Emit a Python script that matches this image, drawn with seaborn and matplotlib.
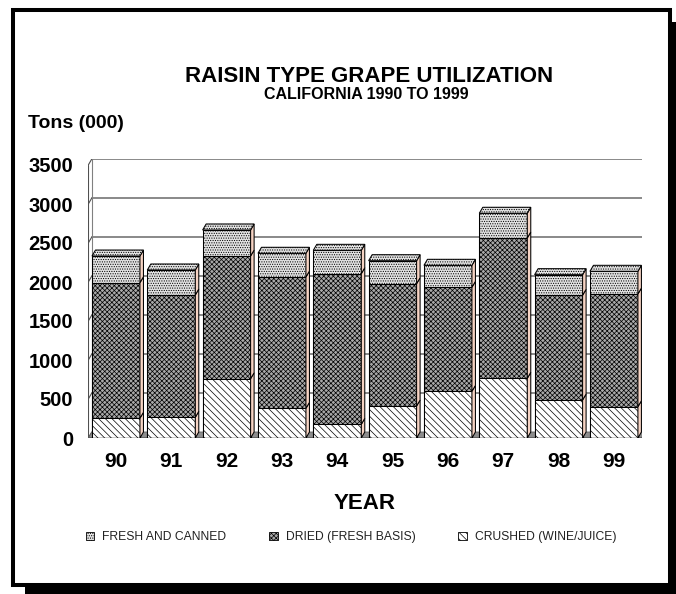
import numpy as np
import pandas as pd
import matplotlib.pyplot as plt
import seaborn as sns
from matplotlib.patches import Polygon, Patch, Rectangle

# values in thousand tons
years = ['90', '91', '92', '93', '94', '95', '96', '97', '98', '99']
crushed = [253, 265, 760, 380, 175, 410, 598, 765, 487, 401]
dried = [1738, 1568, 1573, 1684, 1931, 1568, 1334, 1799, 1343, 1445]
fresh = [342, 321, 334, 304, 300, 295, 282, 317, 264, 291]
series = ['FRESH AND CANNED', 'DRIED (FRESH BASIS)', 'CRUSHED (WINE/JUICE)']
yticks = [0, 500, 1000, 1500, 2000, 2500, 3000, 3500]

sns.set_style('white')
plt.rcParams['font.family'] = ['Liberation Sans', 'DejaVu Sans']
plt.rcParams['hatch.linewidth'] = 0.5
for k in ['text.color', 'axes.labelcolor', 'xtick.color', 'ytick.color']:
    plt.rcParams[k] = 'black'

df = pd.DataFrame({'year': years, 'crushed': crushed, 'dried': dried, 'fresh': fresh})
df['dried_top'] = df['crushed'] + df['dried']
df['total'] = df['dried_top'] + df['fresh']

# fill styles: face colour + hatch
styles = {
    'total': ('#e2e2e2', '.......'),
    'dried_top': ('#a8a8a8', 'xxxxxxx'),
    'crushed': ('white', '\\\\\\\\\\'),
}
SIDE = '#f6d3c3'

W, H = 676, 594
fig = plt.figure(figsize=(W / 100, H / 100), dpi=100)

# frame with drop shadow
fig.patches.append(Rectangle((25 / W, -0.1), 1, 1.1 - 22 / H, transform=fig.transFigure,
                             facecolor='black', edgecolor='none', zorder=-3))
fig.patches.append(Rectangle((13 / W, 1 - 585 / H), 657 / W, 575 / H, transform=fig.transFigure,
                             facecolor='white', edgecolor='black', lw=2.9, zorder=-2))

ax_px = (88.3, 438, 553.3, 279)  # left, bottom(from top), width, height in px
ax = fig.add_axes([ax_px[0] / W, 1 - ax_px[1] / H, ax_px[2] / W, ax_px[3] / H])
ax.set_facecolor('none')

ytop = 3500 * ax_px[3] / (438 - 165)
n = len(years)
dx = 3.5 / (ax_px[2] / n)          # depth offset in category units
dy = 6 * ytop / ax_px[3]           # depth offset in data units

# back wall, left wall and floor
for v in yticks[1:]:
    ax.plot([-0.5 + dx, n - 0.5 + dx], [v + dy, v + dy], color='#808080', lw=1.3, zorder=0.5)
for v in yticks:
    ax.plot([-0.5, -0.5 + dx], [v, v + dy], color='#505050', lw=0.8, zorder=0.6)
ax.plot([-0.5, -0.5], [0, yticks[-1]], color='#505050', lw=0.8, zorder=0.6)
ax.plot([-0.5 + dx] * 2, [dy, yticks[-1] + dy], color='#808080', lw=0.8, zorder=0.6)
ax.plot([n - 0.5 + dx] * 2, [dy, yticks[-1] + dy], color='#808080', lw=1.0, zorder=0.6)
ax.add_patch(Polygon([(-0.5, 0), (n - 0.5, 0), (n - 0.5 + dx, dy), (-0.5 + dx, dy)],
                     facecolor='#8c8c8c', edgecolor='#606060', lw=0.6, zorder=0.7))

# stacked bars: cumulative totals drawn from the tallest down
bars = {}
for col in ['total', 'dried_top', 'crushed']:
    face, hatch = styles[col]
    n0 = len(ax.patches)
    sns.barplot(data=df, x='year', y=col, ax=ax, color=face, hatch=hatch, edgecolor='black',
                linewidth=0.75, width=0.867, saturation=1, errorbar=None, zorder=2)
    bars[col] = ax.patches[n0:]

# fake 3D: side faces and top faces
for i in range(n):
    p = bars['total'][i]
    x0, x1 = p.get_x(), p.get_x() + p.get_width()
    levels = [0, bars['crushed'][i].get_height(), bars['dried_top'][i].get_height(), p.get_height()]
    for lo, hi in zip(levels[:-1], levels[1:]):
        ax.add_patch(Polygon([(x1, lo), (x1 + dx, lo + dy), (x1 + dx, hi + dy), (x1, hi)],
                             facecolor=SIDE, edgecolor='black', lw=0.75, zorder=2.1))
    top = levels[-1]
    ax.add_patch(Polygon([(x0, top), (x1, top), (x1 + dx, top + dy), (x0 + dx, top + dy)],
                         facecolor=styles['total'][0], hatch=styles['total'][1],
                         edgecolor='black', lw=0.75, zorder=2.1))
ax.plot([-0.5, n - 0.5], [0, 0], color='black', lw=1.0, zorder=2.5)

ax.set_xlim(-0.5, n - 0.5)
ax.set_ylim(0, ytop)
sns.despine(ax=ax, left=True, bottom=True)
ax.grid(False)
ax.set_yticks(yticks)
ax.set_yticklabels([str(v) for v in yticks], fontsize=14.5, fontweight='bold')
ax.set_xticks(range(n))
ax.set_xticklabels(years, fontsize=15, fontweight='bold')
ax.tick_params(axis='y', length=0, pad=11)
ax.tick_params(axis='x', length=0, pad=10)
ax.set_xlabel('YEAR', fontsize=16, fontweight='bold', labelpad=16)
ax.set_ylabel('')

fig.text(369 / W, 1 - 82 / H, 'RAISIN TYPE GRAPE UTILIZATION', ha='center', va='baseline',
         fontsize=16, fontweight='bold')
fig.text(366.5 / W, 1 - 99 / H, 'CALIFORNIA 1990 TO 1999', ha='center', va='baseline',
         fontsize=11.5, fontweight='bold')
fig.text(28 / W, 1 - 128 / H, 'Tons (000)', ha='left', va='baseline',
         fontsize=14, fontweight='bold')

handles = [Patch(facecolor=styles[c][0], hatch=styles[c][1], edgecolor='black', lw=0.6)
           for c in ['total', 'dried_top', 'crushed']]
fig.legend(handles, series, ncol=3, loc='center', bbox_to_anchor=(351 / W, 1 - 537 / H),
           frameon=False, fontsize=8.7, handlelength=0.7, handleheight=0.7,
           handletextpad=0.66, columnspacing=3.55, labelcolor='#222222')

fig.savefig('out.png', dpi=100)
